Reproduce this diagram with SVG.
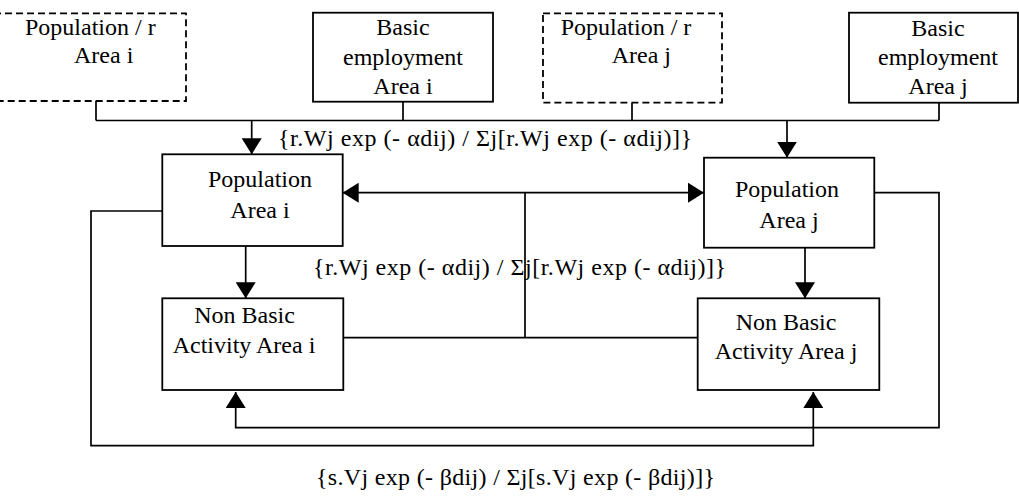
<svg xmlns="http://www.w3.org/2000/svg" width="1019" height="496" viewBox="0 0 1019 496" font-family="'Liberation Serif', 'DejaVu Serif', serif">
<style>
.box{fill:#fff;stroke:#000;stroke-width:1.8}
.dash{stroke-dasharray:7 4}
.t{font-family:'Liberation Serif','DejaVu Serif',serif;font-size:24px;fill:#000}
.m{text-anchor:middle}
.ln{fill:none;stroke:#000;stroke-width:1.7}
</style>
<defs>
<marker id="ah" viewBox="0 0 16 20" refX="16" refY="10" markerWidth="16" markerHeight="20" markerUnits="userSpaceOnUse" orient="auto-start-reverse">
<path d="M0,0 L16,10 L0,20 Z" fill="#000"/>
</marker>
</defs>
<rect width="1019" height="496" fill="#fff"/>
<g id="connectors">
<path class="ln" d="M96,101 V120.5 M403,102 V120.5 M632,103 V120.5 M939,103 V120.5 M96,120.5 H939"/>
<path class="ln" d="M251.7,120.5 V154.3" marker-end="url(#ah)"/>
<path class="ln" d="M787,120.5 V157.7" marker-end="url(#ah)"/>
<path class="ln" d="M342.7,192.7 H704" marker-start="url(#ah)" marker-end="url(#ah)"/>
<path class="ln" d="M525,192.7 V337.7 M343.3,337.7 H705"/>
<path class="ln" d="M245.7,246 V298.3" marker-end="url(#ah)"/>
<path class="ln" d="M805,247.7 V298.3" marker-end="url(#ah)"/>
<path class="ln" d="M867,192.7 H939 V427.7 H235.7 V392" marker-end="url(#ah)"/>
<path class="ln" d="M162.3,211 H91 V445.7 H813.3 V392" marker-end="url(#ah)"/>
</g>
<g id="popr-i">
<rect class="box dash" x="-6" y="13.3" width="192" height="87.7"/>
<text class="t" font-family="Liberation Serif" x="25" y="35">Population / r</text>
<text class="t" font-family="Liberation Serif" x="74" y="63">Area i</text>
</g>
<g id="basic-i">
<rect class="box" x="313" y="12.7" width="180" height="89"/>
<text class="t m" font-family="Liberation Serif" x="403" y="35">Basic</text>
<text class="t m" font-family="Liberation Serif" x="403" y="65">employment</text>
<text class="t m" font-family="Liberation Serif" x="403" y="94">Area i</text>
</g>
<g id="popr-j">
<rect class="box dash" x="543" y="13.3" width="179" height="89.4"/>
<text class="t" font-family="Liberation Serif" x="560.7" y="35">Population / r</text>
<text class="t" font-family="Liberation Serif" x="611.7" y="63">Area j</text>
</g>
<g id="basic-j">
<rect class="box" x="849" y="12.7" width="169" height="90"/>
<text class="t m" font-family="Liberation Serif" x="938" y="36">Basic</text>
<text class="t m" font-family="Liberation Serif" x="938" y="65">employment</text>
<text class="t m" font-family="Liberation Serif" x="938" y="94">Area j</text>
</g>
<g id="pop-i">
<rect class="box" x="162.3" y="154.3" width="180.4" height="91.7"/>
<text class="t m" font-family="Liberation Serif" x="260" y="187">Population</text>
<text class="t m" font-family="Liberation Serif" x="260" y="218">Area i</text>
</g>
<g id="pop-j">
<rect class="box" x="704" y="157.7" width="170.3" height="90"/>
<text class="t m" font-family="Liberation Serif" x="787" y="197">Population</text>
<text class="t m" font-family="Liberation Serif" x="789" y="228">Area j</text>
</g>
<g id="nonbasic-i">
<rect class="box" x="162.3" y="298.3" width="181" height="91.7"/>
<text class="t m" font-family="Liberation Serif" x="244.5" y="323">Non Basic</text>
<text class="t m" font-family="Liberation Serif" x="244" y="353">Activity Area i</text>
</g>
<g id="nonbasic-j">
<rect class="box" x="697.7" y="298.3" width="181.6" height="91.7"/>
<text class="t m" font-family="Liberation Serif" x="786" y="330">Non Basic</text>
<text class="t m" font-family="Liberation Serif" x="786" y="359">Activity Area j</text>
</g>
<g id="labels">
<text class="t" font-family="Liberation Serif" x="278" y="146" textLength="414" lengthAdjust="spacing">{r.Wj exp (- αdij) / Σj[r.Wj exp (- αdij)]}</text>
<text class="t" font-family="Liberation Serif" x="313" y="275" textLength="413" lengthAdjust="spacing">{r.Wj exp (- αdij) / Σj[r.Wj exp (- αdij)]}</text>
<text class="t" font-family="Liberation Serif" x="316" y="485" textLength="399" lengthAdjust="spacing">{s.Vj exp (- βdij) / Σj[s.Vj exp (- βdij)]}</text>
</g>
</svg>
